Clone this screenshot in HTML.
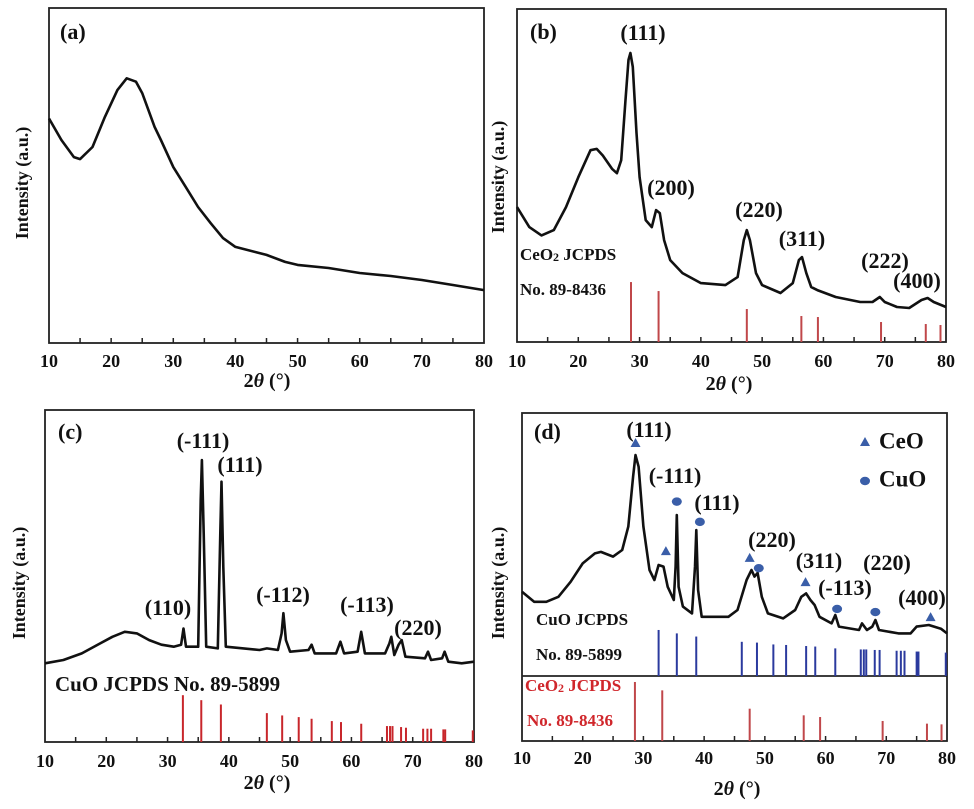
<!DOCTYPE html>
<html><head><meta charset="utf-8"><style>
html,body{margin:0;padding:0;background:#fff;}
svg{display:block;}
text{font-family:"Liberation Serif",serif;font-weight:bold;fill:#111;}
</style></head><body>
<svg id="fig" width="974" height="809" viewBox="0 0 974 809" xmlns="http://www.w3.org/2000/svg"></svg>
<script>
// ---- data (2θ, intensity %) ----
const aX=[10,12,14,15,17,19,21,22.5,24,25,27,28,30,32,34,36,38,40,45,48,50,55,60,65,70,75,80];
const aY=[67,60.6,55.5,54.9,58.5,67.5,75.5,79,78,74.6,64.5,60.6,52.5,46.6,40.6,35.8,31.3,28.7,26.3,24.2,23.3,22.4,20.9,20,18.8,17.3,15.8];

const bX=[10,12,14,16,18,20,22,23,24,25.5,26.3,27,27.7,28.2,28.5,28.9,29.5,30,31,32,32.7,33.3,34,35,37,40,44,46,47,47.5,48,49,50,53,55,56,56.5,57.2,58,59,62,66,68,69.2,70,72,74,76,77,78,80];
const bY=[40.5,34.5,32,33.6,40.5,49.5,57.6,58,56,52,50.7,54.6,72.7,84.7,86.8,82.6,62.8,49.5,36.6,34.5,39.6,38.7,30.6,24.6,20.7,17.7,17.1,19.5,30.6,33.6,30.6,20.7,17.1,14.7,17.7,24.6,25.5,20.7,16.5,15.6,13.5,12,12,13.5,12,10.5,10.2,12.6,13.2,12,10.5];
const bStickX=[28.6,33.1,47.5,56.4,59.1,69.4,76.7,79.1];
const bStickY=[18,15.3,9.9,7.8,7.5,6,5.4,5.1];

const cX=[10,13,16,19,21,23,25,27,29,31,32.2,32.6,33,35,35.4,35.6,35.9,36.3,38.2,38.6,38.8,39.1,39.5,45,46.2,48,48.6,48.9,49.3,50,53,53.5,54,57.5,58.2,58.8,61,61.6,62.2,65.5,66.2,66.5,67,67.7,68.2,68.8,72,72.5,73,74.8,75.2,75.8,78,80];
const cY=[23.7,24.7,26.7,29.7,31.7,33.2,32.7,30.7,29.3,28.7,29.3,34.2,28.7,28.7,72.9,84.9,62.9,28.7,28.2,63,78.4,52.8,28.7,27.7,28.2,27.7,32.7,38.8,30.7,27.2,27.7,29.3,26.7,26.7,30.2,26.7,27.2,33.2,26.7,26.7,29.7,31.7,26.2,29.3,30.7,25.7,25.2,27.2,24.7,25.2,27.2,24.2,23.7,24.2];
const cuoStickX=[32.5,35.5,38.7,46.2,48.7,51.4,53.5,56.8,58.3,61.6,65.8,66.3,66.7,68.1,68.9,71.7,72.4,73,75,75.3,79.8];
const cStickY=[14.1,12.6,11.3,8.7,8.0,7.5,7.0,6.3,6.0,5.5,4.8,4.8,4.8,4.5,4.3,4.0,4.0,4.0,3.8,3.8,3.5];

const dX=[10,12,14,16,18,20,22,23,25,26.5,27.5,28.3,28.7,29.2,30,31,31.8,32.5,33.3,34,35,35.3,35.5,35.8,36.5,38,38.5,38.7,39,39.6,44,45.5,47,47.8,48.3,48.8,49.5,50.5,53,55,56,56.8,57.5,58.2,59,61,61.6,62.2,65.5,66,66.8,67.7,68.2,68.8,72,74,75,77,79,80];
const dY=[32,28.2,28.2,30.1,35.8,42.8,46.6,47.2,45.4,47.9,56.8,75.8,84,79.6,56.8,40.3,36.5,42.2,41.6,33.9,28.9,41.6,61.2,33.9,26.4,23.8,41.6,55.5,32.7,22.5,22.5,25.1,36.5,40.3,37.8,39.2,30.1,23.8,21.9,25.1,30.1,31.4,28.9,27,22.5,20,23.2,18.8,17.5,20,17.5,18.8,21.3,17.5,16.2,16.2,18.8,19.4,18,16.2];
const dBlueY=[17.5,16.2,15,13,12.7,12,11.8,11.4,11.2,10.5,10.1,10.1,10.1,9.9,9.9,9.6,9.6,9.6,9.3,9.3,8.9];
const dRedY=[90.8,77.9,49.7,39.5,36.9,30.8,26.7,25.6];
const dTriX=[28.7,33.7,47.5,56.7,77.3];
const dTriY=[88.6,47.5,44.9,35.7,22.4];
const dCirX=[35.5,39.3,49,61.9,68.2];
const dCirY=[66.3,58.6,41,25.5,24.3];
const xTicks=[10,20,30,40,50,60,70,80];

const NS='http://www.w3.org/2000/svg';
const svg=document.getElementById('fig');
function mk(tag,attrs,parent){const e=document.createElementNS(NS,tag);for(const k in attrs)e.setAttribute(k,attrs[k]);(parent||svg).appendChild(e);return e;}
function axis(L,R,T,B){return {x:v=>L+(v-10)/70*(R-L),L,R,T,B};}

function panel(id,L,R,T,B,tickY,titleX,titleY,ytX,ytY){
  const g=mk('g',{});
  
  
  const ax=axis(L,R,T,B);
  const fr=mk('rect',{x:L,y:T,width:R-L,height:B-T,fill:'none',stroke:'#222','stroke-width':1.8},g);
  
  
  for(let v=15;v<80;v+=5){
    const t=mk('line',{x1:ax.x(v),x2:ax.x(v),y1:B,y2:B-5,stroke:'#222','stroke-width':1.5},g);
    
    
  }
  xTicks.forEach(v=>{
    const t=mk('text',{x:ax.x(v),y:tickY,'text-anchor':'middle','font-size':18},g);
    
    
    t.textContent=v;
  });
  const xt=mk('text',{x:titleX,y:titleY,'text-anchor':'middle','font-size':20},g);
  
  
  xt.innerHTML='2<tspan font-style="italic">θ</tspan> (°)';
  const yt=mk('text',{x:ytX,y:ytY,'text-anchor':'middle','font-size':18,transform:`rotate(-90 ${ytX} ${ytY})`},g);
  
  
  yt.textContent='Intensity (a.u.)';
  return {g,ax};
}
function curve(p,xs,ys,top,bot,name){
  const h=bot-top;
  let d='';
  xs.forEach((v,i)=>{d+=(i?'L':'M')+p.ax.x(v).toFixed(1)+' '+(bot-ys[i]/100*h).toFixed(1);});
  const e=mk('path',{d,fill:'none',stroke:'#111','stroke-width':2.6,'stroke-linejoin':'round'},p.g);
  
  
}
function sticks(p,xs,ys,top,bot,color,name){
  const h=bot-top;
  xs.forEach((v,i)=>{
    const e=mk('line',{x1:p.ax.x(v),x2:p.ax.x(v),y1:bot,y2:bot-ys[i]/100*h,stroke:color,'stroke-width':2},p.g);
    
    
  });
}
function label(p,x,y,txt,size,name,anchor,color){
  const e=mk('text',{x,y,'text-anchor':anchor||'middle','font-size':size,'dominant-baseline':'middle'},p.g);
  if(color)e.setAttribute('style','fill:'+color);
  
  
  e.innerHTML=txt;
  return e;
}

// Panel a
const pa=panel('a',49,484,8,343,367,267,387,28,183);
curve(pa,aX,aY,8,343,'xrd-curve-a');
label(pa,60,34,'(a)',22,'panel-label-a','start');

// Panel b
const pb=panel('b',517,946,9,342,367,729,390,504,177);
curve(pb,bX,bY,9,342,'xrd-curve-b');
sticks(pb,bStickX,bStickY,9,342,'#c0474a','ceo2-reference-stick');
label(pb,530,34,'(b)',22,'panel-label-b','start');
[['(111)',643,35],['(200)',671,190],['(220)',759,212],['(311)',802,241],['(222)',885,263],['(400)',917,283]].forEach(a=>label(pb,a[1],a[2],a[0],22,'peak-label'));
label(pb,520,256,'CeO<tspan font-size="12" dy="2">2</tspan><tspan dy="-2"> JCPDS</tspan>',17,'reference-label-ceo2','start');
label(pb,520,291,'No. 89-8436',17,'reference-number-ceo2','start');

// Panel c
const pc=panel('c',45,474,410,742,767,267,789,25,583);
curve(pc,cX,cY,410,742,'xrd-curve-c');
sticks(pc,cuoStickX,cStickY,410,742,'#c8262b','cuo-reference-stick');
label(pc,58,434,'(c)',22,'panel-label-c','start');
[['(-111)',203,443],['(111)',240,467],['(110)',168,610],['(-112)',283,597],['(-113)',367,607],['(220)',418,630]].forEach(a=>label(pc,a[1],a[2],a[0],22,'peak-label'));
label(pc,55,686,'CuO JCPDS No. 89-5899',21,'reference-label-cuo','start');

// Panel d
const pd=panel('d',522,947,413,741,764,737,795,504,583);
const dv=mk('line',{x1:522,x2:947,y1:676,y2:676,stroke:'#222','stroke-width':1.8},pd.g);


curve(pd,dX,dY,413,676,'xrd-curve-d');
sticks(pd,cuoStickX,dBlueY,413,676,'#2b3a9e','cuo-reference-stick');
sticks(pd,bStickX,dRedY,676,741,'#c0474a','ceo2-reference-stick');
const mc='#3a5ea8';
dTriX.forEach((v,i)=>{
  const x=pd.ax.x(v),y=676-dTriY[i]/100*263;
  const e=mk('polygon',{points:`${x},${y-5} ${x-5},${y+4} ${x+5},${y+4}`,fill:mc},pd.g);
  
  
});
dCirX.forEach((v,i)=>{
  const x=pd.ax.x(v),y=676-dCirY[i]/100*263;
  const e=mk('ellipse',{cx:x,cy:y,rx:5,ry:4.2,fill:mc},pd.g);
  
  
});
label(pd,534,434,'(d)',22,'panel-label-d','start');
[['(111)',649,432],['(-111)',675,478],['(111)',717,505],['(220)',772,542],['(311)',819,563],['(-113)',845,590],['(220)',887,565],['(400)',922,600]].forEach(a=>label(pd,a[1],a[2],a[0],22,'peak-label'));
const lt=mk('polygon',{points:'865,437 860,446 870,446',fill:mc},pd.g);


const lc=mk('ellipse',{cx:865,cy:481,rx:5,ry:4.2,fill:mc},pd.g);


label(pd,879,443,'CeO',23,'legend-ceo','start');
label(pd,879,481,'CuO',23,'legend-cuo','start');
label(pd,536,621,'CuO JCPDS',17,'reference-label-cuo','start');
label(pd,536,656,'No. 89-5899',17,'reference-number-cuo','start');
label(pd,525,687,'CeO<tspan font-size="12" dy="2">2</tspan><tspan dy="-2"> JCPDS</tspan>',17,'reference-label-ceo2','start','#d0262b');
label(pd,527,722,'No. 89-8436',17,'reference-number-ceo2','start','#d0262b');
</script>
</body></html>
